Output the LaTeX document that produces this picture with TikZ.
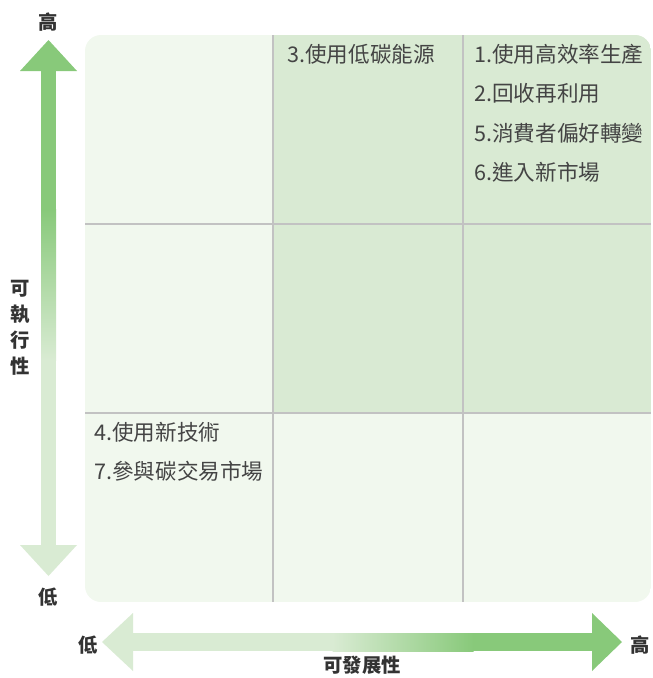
\documentclass[tikz,border=0pt]{standalone}
\usepackage{fontspec}
\setmainfont{Noto Sans CJK TC}
\usepackage{xcolor}
\usepackage{tikz}
\usetikzlibrary{positioning}

\definecolor{hiGreen}{HTML}{88C97A}
\definecolor{loGreen}{HTML}{D9EBD3}
\definecolor{cellLight}{HTML}{F1F8EE}
\definecolor{cellDark}{HTML}{D9EAD3}
\definecolor{gridGray}{HTML}{C2C2C2}
\definecolor{txtGray}{HTML}{444444}

\begin{document}
\begin{tikzpicture}[
  x=0.75pt,y=-0.75pt,
  celltext/.style={anchor=north west,align=left,inner sep=0pt,text=txtGray,
    font=\fontsize{16.2pt}{29.5pt}\selectfont},
  axislabel/.style={inner sep=0pt,text=black!80,font=\fontsize{14.5pt}{19.5pt}\selectfont\bfseries},
  gridline/.style={draw=gridGray,line width=1.5pt}
]
\useasboundingbox (0,0) rectangle (653,678);

% cells
\begin{scope}
  \clip[rounded corners=12] (85,35) rectangle (651,602);
  \fill[cellLight] (85,35) rectangle (651,602);
  \fill[cellDark] (272,35) rectangle (651,413);
\end{scope}

% grid lines
\coordinate (c1t) at (272.5,35);  \coordinate (c1b) at (272.5,602);
\coordinate (c2t) at (462.5,35);  \coordinate (c2b) at (462.5,602);
\coordinate (r1l) at (85,224);    \coordinate (r1r) at (651,224);
\coordinate (r2l) at (85,413);    \coordinate (r2r) at (651,413);
\draw[gridline] (c1t) -- (c1b);
\draw[gridline] (c2t) -- (c2b);
\draw[gridline] (r1l) -- (r1r);
\draw[gridline] (r2l) -- (r2r);

% vertical axis arrow
\fill[hiGreen] (48.5,40) -- (77,71) -- (20,71) -- cycle;
\fill[hiGreen] (41,70) rectangle (56,210);
\shade[top color=hiGreen,bottom color=loGreen] (41,209.5) rectangle (56,360.5);
\fill[loGreen] (41,360) rectangle (56,546);
\fill[loGreen] (20,545) -- (77,545) -- (48.5,576) -- cycle;

% horizontal axis arrow
\fill[loGreen] (102,642) -- (133,613) -- (133,671) -- cycle;
\fill[loGreen] (132,633) rectangle (333,651);
\shade[left color=loGreen,right color=hiGreen] (332.5,633) rectangle (473.5,651);
\fill[hiGreen] (473,633) rectangle (593,651);
\fill[hiGreen] (592,613) -- (622,642) -- (592,671) -- cycle;

% axis labels
\node[axislabel] (yhigh) at (48,22) {高};
\node[axislabel] (ylow) at (48,597) {低};
\node[axislabel,align=center] (ytitle) at (20,328) {可\\執\\行\\性};
\node[axislabel] (xlow) at (88,645) {低};
\node[axislabel] (xhigh) at (640,645) {高};
\node[axislabel] (xtitle) at (362,665) {可發展性};

% cell texts
\node[celltext] (midtop) at (287,44) {3.使用低碳能源};
\node[celltext] (righttop) at (474,44) {1.使用高效率生產\\2.回收再利用\\5.消費者偏好轉變\\6.進入新市場};
\node[celltext] (leftbot) at (94,422) {4.使用新技術\\7.參與碳交易市場};

\end{tikzpicture}
\end{document}
